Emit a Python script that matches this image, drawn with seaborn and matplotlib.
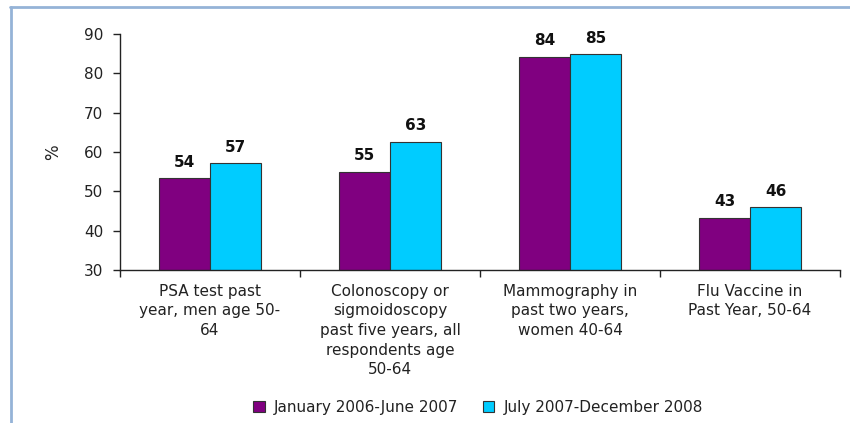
import matplotlib
matplotlib.use("Agg")
import matplotlib.pyplot as plt
from matplotlib.lines import Line2D
import seaborn as sns
import pandas as pd
import numpy as np

categories = [
    "PSA test past\nyear, men age 50-\n64",
    "Colonoscopy or\nsigmoidoscopy\npast five years, all\nrespondents age\n50-64",
    "Mammography in\npast two years,\nwomen 40-64",
    "Flu Vaccine in\nPast Year, 50-64",
]
series_names = ["January 2006-June 2007", "July 2007-December 2008"]
values_2006 = [53.4, 55.0, 84.2, 43.3]
values_2007 = [57.1, 62.6, 84.9, 45.9]
labels_2006 = ["54", "55", "84", "43"]
labels_2007 = ["57", "63", "85", "46"]
y_ticks = [30, 40, 50, 60, 70, 80, 90]

df = pd.DataFrame({
    "category": categories * 2,
    "period": [series_names[0]] * 4 + [series_names[1]] * 4,
    "value": values_2006 + values_2007,
})

sns.set_theme(style="white")
plt.rcParams["font.family"] = ["DejaVu Sans"]

fig = plt.figure(figsize=(8.5, 4.23), dpi=100)
ax = fig.add_axes([120 / 850, 1 - 270 / 423, 720 / 850, (270 - 34) / 423])

palette = {series_names[0]: "#800080", series_names[1]: "#00CCFF"}
sns.barplot(data=df, x="category", y="value", hue="period", order=categories,
            hue_order=series_names, palette=palette, width=0.567, gap=0,
            saturation=1, edgecolor="#333333", linewidth=0.8, ax=ax,
            legend=True)

fs = 11
ax.set_ylim(30, 90)
ax.set_xlim(-0.5, 3.5)
ax.set_yticks(y_ticks)
ax.set_yticklabels([str(t) for t in y_ticks], fontsize=fs, color="#222222")
ax.set_xticks(range(len(categories)))
ax.set_xticklabels(categories, fontsize=fs, color="#222222", linespacing=1.38,
                   va="top")
ax.tick_params(axis="x", which="major", length=0, pad=10)
ax.set_xticks([-0.5, 0.5, 1.5, 2.5, 3.5], minor=True)
ax.tick_params(axis="x", which="minor", length=5, width=1, color="#222222",
               direction="out", bottom=True)
ax.tick_params(axis="y", length=5, width=1, color="#222222", direction="out",
               left=True, pad=7)
ax.set_xlabel("")
ax.set_ylabel("%", fontsize=12, color="#222222", labelpad=16)

for s in ["top", "right"]:
    ax.spines[s].set_visible(False)
for s in ["left", "bottom"]:
    ax.spines[s].set_color("#222222")
    ax.spines[s].set_linewidth(1)

for container, labs in zip(ax.containers, [labels_2006, labels_2007]):
    ax.bar_label(container, labels=labs, padding=6, fontsize=fs,
                 fontweight="bold", color="#111111")

handles, labels = ax.get_legend_handles_labels()
ax.get_legend().remove()
fig.legend(handles, labels, loc="center", bbox_to_anchor=(478 / 850, 1 - 407 / 423),
           ncol=2, frameon=False, fontsize=fs, handlelength=0.75, handleheight=0.75,
           handletextpad=0.6, columnspacing=1.6, labelcolor="#222222")

border_color = "#95B3D7"
fig.add_artist(Line2D([10.5 / 850, 10.5 / 850], [0, 1 - 7 / 423],
                      transform=fig.transFigure, color=border_color, lw=2))
fig.add_artist(Line2D([10 / 850, 1], [1 - 7 / 423, 1 - 7 / 423],
                      transform=fig.transFigure, color=border_color, lw=2))

fig.savefig("out.png", dpi=100)
